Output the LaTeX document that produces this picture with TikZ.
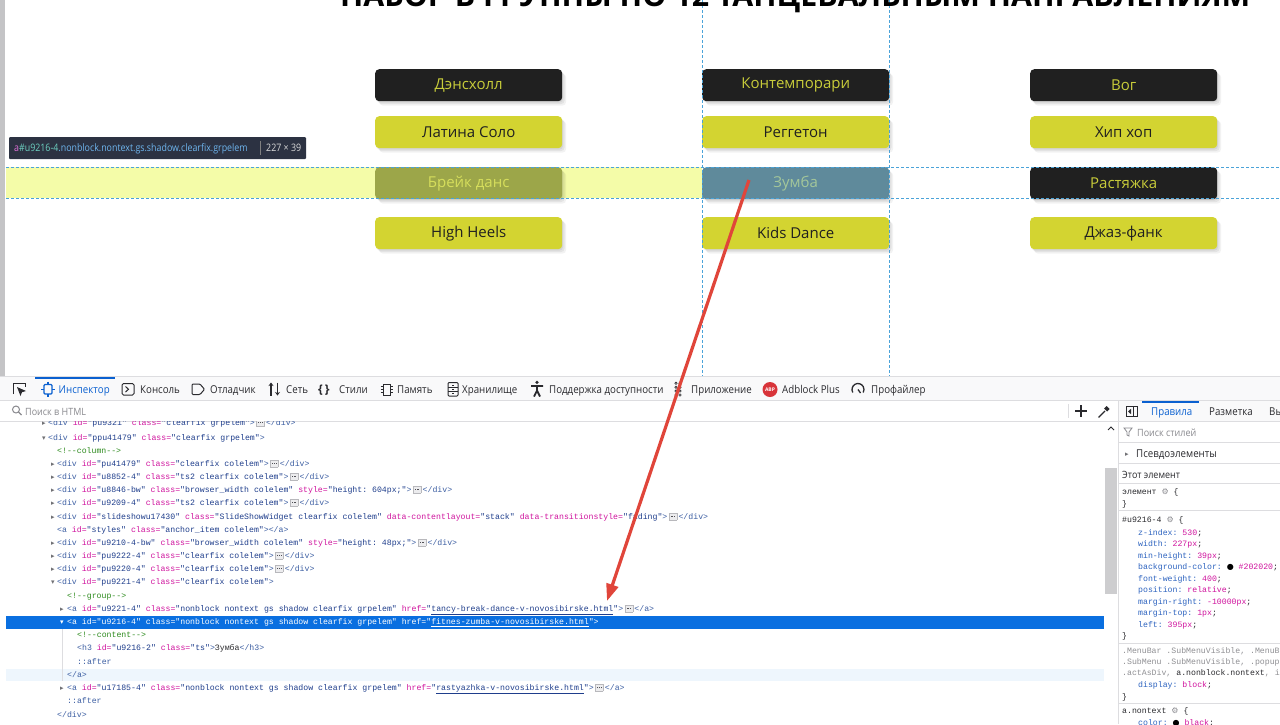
\documentclass[tikz,border=0pt]{standalone}
\usepackage{fontspec}
\setmainfont{Open Sans}
\setmonofont{Liberation Mono}
\newfontfamily\uifam[FakeStretch=0.9]{Open Sans}
\newfontfamily\tipfam[FakeStretch=0.86]{Open Sans}
\newfontfamily\symfam{DejaVu Sans}
\usetikzlibrary{arrows.meta,shadows}

\definecolor{darkb}{HTML}{202020}
\definecolor{ylw}{HTML}{D3D431}
\definecolor{ylwtxt}{HTML}{C8CC3A}
\definecolor{hiband}{HTML}{F4FCA8}
\definecolor{brkfill}{HTML}{9CA649}
\definecolor{brktxt}{HTML}{D6DE5C}
\definecolor{zumfill}{HTML}{5F8A9B}
\definecolor{zumtxt}{HTML}{A4C79A}
\definecolor{guidec}{HTML}{4AA3D9}
\definecolor{tipbg}{HTML}{2C3242}
\definecolor{tipa}{HTML}{E070D8}
\definecolor{tipid}{HTML}{6CCFC0}
\definecolor{tipcls}{HTML}{6EB5EE}
\definecolor{tagc}{HTML}{3D5FA3}
\definecolor{attc}{HTML}{D0149E}
\definecolor{valc}{HTML}{1F3E8C}
\definecolor{cmtc}{HTML}{2E8B1E}
\definecolor{selbg}{HTML}{0A6FE0}
\definecolor{rowhi}{HTML}{EEF6FD}
\definecolor{arrowred}{HTML}{E0453A}
\definecolor{tbbg}{HTML}{F9F9FA}
\definecolor{bord}{HTML}{DDDDE0}
\definecolor{uitxt}{HTML}{2A2A2E}
\definecolor{blueui}{HTML}{0A60D0}
\definecolor{phgray}{HTML}{8A8A8F}
\definecolor{trigray}{HTML}{707074}
\definecolor{ellbd}{HTML}{B8B8BC}
\definecolor{ellbg}{HTML}{ECECEE}
\definecolor{ellfg}{HTML}{505055}
\definecolor{propc}{HTML}{2E64C0}
\definecolor{valp}{HTML}{D0149E}
\definecolor{selgray}{HTML}{909094}
\definecolor{gearc}{HTML}{8A8A8F}
\definecolor{thumb}{HTML}{CDCDCF}
\definecolor{abpred}{HTML}{D8343A}
\definecolor{leftbar}{HTML}{C4C4C6}

\newcommand\ctag[1]{\textcolor{tagc}{#1}}
\newcommand\catt[1]{\textcolor{attc}{#1}}
\newcommand\cval[1]{\textcolor{valc}{#1}}
\newcommand\ccmt[1]{\textcolor{cmtc}{#1}}
\newcommand\clink[1]{\textcolor{valc}{\underline{#1}}}
\newcommand\attr[2]{\space\catt{#1=}\cval{"#2"}}
\newcommand\ellbox{\kern1.5pt\raisebox{-0.6pt}{\setlength\fboxsep{0pt}\setlength\fboxrule{0.4pt}\fcolorbox{ellbd}{ellbg}{\rule{0pt}{6.5pt}\kern1.4pt\textcolor{ellfg}{\rule[2.7pt]{1pt}{1pt}\kern0.8pt\rule[2.7pt]{1pt}{1pt}\kern0.8pt\rule[2.7pt]{1pt}{1pt}}\kern1.4pt}}\kern1.5pt}
\newcommand\gearic{{\symfam\fontsize{8}{8}\selectfont\textcolor{gearc}{⚙}}}
\newcommand\dotic{{\symfam\fontsize{8}{8}\selectfont\textcolor{black}{●}}}
\newcommand\propl[2]{\textcolor{propc}{#1:} \textcolor{valp}{#2};}

\tikzset{
  guide/.style={draw=guidec, dash pattern=on 3pt off 2pt, line width=0.7pt},
  softshadow/.style={
    general shadow={fill=black, opacity=0.06, shadow xshift=1pt, shadow yshift=-1.5pt},
    general shadow={fill=black, opacity=0.06, shadow xshift=2.5pt, shadow yshift=-3pt},
    general shadow={fill=black, opacity=0.05, shadow xshift=4pt, shadow yshift=-4.5pt}},
  btn/.style={anchor=north west, rounded corners=4pt, minimum width=187pt, minimum height=32pt,
    inner sep=0pt, font=\fontsize{15}{18}\selectfont, softshadow},
  darkbtn/.style={btn, fill=darkb, text=ylwtxt},
  ylwbtn/.style={btn, fill=ylw, text=darkb},
  code/.style={anchor=base west, inner sep=0pt, font=\ttfamily\fontsize{8.2}{10}\selectfont, text=uitxt},
  tri/.style={anchor=base west, inner sep=0pt, font=\symfam\fontsize{7}{7}\selectfont, text=trigray},
  uilabel/.style={anchor=base west, inner sep=0pt, font=\uifam\fontsize{10.8}{12}\selectfont, text=uitxt},
  icon/.style={draw=uitxt, line width=1pt},
  sepline/.style={draw=bord, line width=0.8pt},
}

\begin{document}
\begin{tikzpicture}[x=1pt,y=-1pt]
\useasboundingbox (0,0) rectangle (1280,724);
\begin{scope}
\clip (0,0) rectangle (1280,724);
\fill[white] (0,0) rectangle (1280,724);

% ---------------- page area ----------------
\fill[leftbar] (0,0) rectangle (5,376);
\fill[hiband] (6,167) rectangle (702,198);

\node[darkbtn] (b11) at (375,69) {Дэнсхолл};
\node[darkbtn] (b12) at (702,69) {Контемпорари};
\node[darkbtn] (b13) at (1030,69) {Вог};
\node[ylwbtn] (b21) at (375,116) {Латина Соло};
\node[ylwbtn] (b22) at (702,116) {Реггетон};
\node[ylwbtn] (b23) at (1030,116) {Хип хоп};
\node[btn, fill=brkfill, text=brktxt] (b31) at (375,167) {Брейк данс};
\node[btn, fill=zumfill, text=zumtxt] (b32) at (702,167) {Зумба};
\node[darkbtn] (b33) at (1030,167) {Растяжка};
\node[ylwbtn] (b41) at (375,217) {High Heels};
\node[ylwbtn] (b42) at (702,217) {Kids Dance};
\node[ylwbtn] (b43) at (1030,217) {Джаз-фанк};

\draw[guide] (6,167) -- (1280,167);
\draw[guide] (6,198) -- (1280,198);
\draw[guide] (702,0) -- (702,376);
\draw[guide] (889,0) -- (889,376);

\node[anchor=base west, inner sep=0pt] (title) at (340,6.5)
  {\resizebox{910pt}{!}{\bfseries НАБОР В ГРУППЫ ПО 12 ТАНЦЕВАЛЬНЫМ НАПРАВЛЕНИЯМ}};

% tooltip
\fill[tipbg, rounded corners=1pt] (9,137) rectangle (306,159);
\node[anchor=base west, inner sep=0pt, font=\tipfam\fontsize{10.3}{11}\selectfont] (tip) at (14,151.8)
  {\textcolor{tipa}{a}\textcolor{tipid}{\#u9216-4}\textcolor{tipcls}{.nonblock.nontext.gs.shadow.clearfix.grpelem}};
\draw[draw=gray, line width=0.6pt] (260.5,141) -- (260.5,155);
\node[anchor=base west, inner sep=0pt, font=\tipfam\fontsize{10.3}{11}\selectfont, text=white!85!black] (tipsz) at (266,151.8) {227 × 39};

% ---------------- devtools ----------------
\fill[white] (0,376) rectangle (1280,724);
\fill[tbbg] (0,377) rectangle (1280,400);
\draw[sepline] (0,376.5) -- (1280,376.5);
\draw[sepline] (0,400.5) -- (1280,400.5);
\fill[blueui] (35,377) rectangle (115,379);

% toolbar icons
\draw[icon] (13.5,394) -- (13.5,383.5) -- (25,383.5) -- (25,387);
\fill[uitxt] (17,387) -- (26,391) -- (22,392.2) -- (20.5,396) -- cycle;
\draw[blueui, line width=1.2pt, rounded corners=1pt] (44,384.5) rectangle (52,394);
\draw[blueui, line width=1.2pt] (48,381.5)--(48,384.5) (48,394)--(48,397) (41,389.3)--(44,389.3) (52,389.3)--(55,389.3);
\draw[icon, rounded corners=1.5pt] (122,383.5) rectangle (134,395);
\draw[icon] (125.5,386.5) -- (128.5,389.3) -- (125.5,392);
\draw[icon, rounded corners=1pt] (192,384) -- (200,384) -- (204.5,389.3) -- (200,394.5) -- (192,394.5) -- cycle;
\draw[icon, line width=1.3pt, -{Stealth[length=3.5pt,width=5pt]}] (271,395.5) -- (271,382.5);
\draw[icon, line width=1.3pt, -{Stealth[length=3.5pt,width=5pt]}] (277.5,382.5) -- (277.5,395.5);
\node[anchor=base west, inner sep=0pt, font=\fontsize{12}{12}\selectfont\bfseries, text=uitxt] (stic) at (318,393.5) {\{\,\}};
\draw[icon] (383,384) rectangle (390,395);
\draw[icon] (380.5,386.5)--(383,386.5) (380.5,389.5)--(383,389.5) (380.5,392.5)--(383,392.5)
  (390,386.5)--(392.5,386.5) (390,389.5)--(392.5,389.5) (390,392.5)--(392.5,392.5);
\draw[icon, rounded corners=1pt] (448,382.5) rectangle (458,396);
\draw[icon] (448,387.5)--(458,387.5) (448,391.5)--(458,391.5) (452,385)--(454,385) (452,389.5)--(454,389.5) (452,393.8)--(454,393.8);
\fill[uitxt] (537,382.3) circle (1.8);
\draw[uitxt, line width=1.8pt] (531,386)--(543,386) (537,386)--(537,390.5) (537,390.5)--(534,396.5) (537,390.5)--(540,396.5);
\foreach \i in {0,1} \foreach \j in {0,1,2,3} {\draw[uitxt, line width=0.6pt] (676+4*\i,383.3+3.9*\j) circle (1.2);}
\fill[abpred] (770,389.5) circle (7.5);
\node[inner sep=0pt, font=\bfseries\fontsize{5}{5}\selectfont, text=white] (abp) at (770,389.5) {ABP};
\draw[icon, line width=1.3pt] (858,389.5) ++(150:6) arc[start angle=150, end angle=390, radius=6];
\draw[icon, line width=1.3pt] (858,389.5) -- (860.5,393);

% toolbar labels
\node[uilabel, text=blueui] (t1) at (58.5,393) {Инспектор};
\node[uilabel] (t2) at (140,393) {Консоль};
\node[uilabel] (t3) at (210,393) {Отладчик};
\node[uilabel] (t4) at (286,393) {Сеть};
\node[uilabel] (t5) at (339,393) {Стили};
\node[uilabel] (t6) at (397,393) {Память};
\node[uilabel] (t7) at (462,393) {Хранилище};
\node[uilabel] (t8) at (549,393) {Поддержка доступности};
\node[uilabel] (t9) at (691,393) {Приложение};
\node[uilabel] (t10) at (782,393) {Adblock Plus};
\node[uilabel] (t11) at (871,393) {Профайлер};

% search row
\draw[phgray, line width=1pt] (16,409.5) circle (3.5);
\draw[phgray, line width=1.2pt] (18.6,412.1) -- (21.5,415);
\node[uilabel, text=phgray, font=\uifam\fontsize{10}{12}\selectfont] (srch) at (25,415) {Поиск в HTML};
\draw[sepline] (1068,404) -- (1068,418);
\draw[uitxt, line width=1.2pt] (1075,411)--(1087,411) (1081,405)--(1081,417);
\draw[uitxt, line width=1.2pt] (1098.5,417.5)--(1105,411);
\fill[uitxt] (1104,408.5) -- (1106.5,406) -- (1109.5,409) -- (1107,411.5) -- cycle;
\draw[sepline] (0,421.5) -- (1280,421.5);

% code area
\begin{scope}
\clip (6,421.8) rectangle (1104,724);
\fill[selbg] (6,616) rectangle (1104,628.5);
\fill[rowhi] (6,668.8) rectangle (1104,681);
\draw[draw=bord, line width=0.8pt] (62,629) -- (62,681);

\node[tri] (r0) at (42,425) {▸};
\node[code] (l0) at (48,425) {\ctag{<div}\attr{id}{pu9321}\attr{class}{clearfix grpelem}\ctag{>}\ellbox\ctag{</div>}};
\node[tri] (r1) at (42,440) {▾};
\node[code] (l1) at (48,440) {\ctag{<div}\attr{id}{ppu41479}\attr{class}{clearfix grpelem}\ctag{>}};
\node[code] (l2) at (57,453) {\ccmt{<!--column-->}};
\node[tri] (r3) at (51,466) {▸};
\node[code] (l3) at (57,466) {\ctag{<div}\attr{id}{pu41479}\attr{class}{clearfix colelem}\ctag{>}\ellbox\ctag{</div>}};
\node[tri] (r4) at (51,479) {▸};
\node[code] (l4) at (57,479) {\ctag{<div}\attr{id}{u8852-4}\attr{class}{ts2 clearfix colelem}\ctag{>}\ellbox\ctag{</div>}};
\node[tri] (r5) at (51,492) {▸};
\node[code] (l5) at (57,492) {\ctag{<div}\attr{id}{u8846-bw}\attr{class}{browser\_width colelem}\attr{style}{height: 604px;}\ctag{>}\ellbox\ctag{</div>}};
\node[tri] (r6) at (51,505) {▸};
\node[code] (l6) at (57,505) {\ctag{<div}\attr{id}{u9209-4}\attr{class}{ts2 clearfix colelem}\ctag{>}\ellbox\ctag{</div>}};
\node[tri] (r7) at (51,519) {▸};
\node[code] (l7) at (57,519) {\ctag{<div}\attr{id}{slideshowu17430}\attr{class}{SlideShowWidget clearfix colelem}\attr{data-contentlayout}{stack}\attr{data-transitionstyle}{fading}\ctag{>}\ellbox\ctag{</div>}};
\node[code] (l8) at (57,532) {\ctag{<a}\attr{id}{styles}\attr{class}{anchor\_item colelem}\ctag{></a>}};
\node[tri] (r9) at (51,545) {▸};
\node[code] (l9) at (57,545) {\ctag{<div}\attr{id}{u9210-4-bw}\attr{class}{browser\_width colelem}\attr{style}{height: 48px;}\ctag{>}\ellbox\ctag{</div>}};
\node[tri] (r10) at (51,558) {▸};
\node[code] (l10) at (57,558) {\ctag{<div}\attr{id}{pu9222-4}\attr{class}{clearfix colelem}\ctag{>}\ellbox\ctag{</div>}};
\node[tri] (r11) at (51,571) {▸};
\node[code] (l11) at (57,571) {\ctag{<div}\attr{id}{pu9220-4}\attr{class}{clearfix colelem}\ctag{>}\ellbox\ctag{</div>}};
\node[tri] (r12) at (51,584) {▾};
\node[code] (l12) at (57,584) {\ctag{<div}\attr{id}{pu9221-4}\attr{class}{clearfix colelem}\ctag{>}};
\node[code] (l13) at (67,598) {\ccmt{<!--group-->}};
\node[tri] (r14) at (60,611) {▸};
\node[code] (l14) at (67,611) {\ctag{<a}\attr{id}{u9221-4}\attr{class}{nonblock nontext gs shadow clearfix grpelem}\space\catt{href=}\cval{"}\clink{tancy-break-dance-v-novosibirske.html}\cval{"}\ctag{>}\ellbox\ctag{</a>}};
\node[tri, text=white] (r15) at (60,624.5) {▾};
\node[code, text=white] (l15) at (67,624.5) {<a id="u9216-4" class="nonblock nontext gs shadow clearfix grpelem" href="\underline{fitnes-zumba-v-novosibirske.html}">};
\node[code] (l16) at (77,637.5) {\ccmt{<!--content-->}};
\node[code] (l17) at (77,650.5) {\ctag{<h3}\attr{id}{u9216-2}\attr{class}{ts}\ctag{>}Зумба\ctag{</h3>}};
\node[code] (l18) at (77,664) {\ctag{::after}};
\node[code] (l19) at (67,677) {\ctag{</a>}};
\node[tri] (r20) at (60,690.5) {▸};
\node[code] (l20) at (67,690.5) {\ctag{<a}\attr{id}{u17185-4}\attr{class}{nonblock nontext gs shadow clearfix grpelem}\space\catt{href=}\cval{"}\clink{rastyazhka-v-novosibirske.html}\cval{"}\ctag{>}\ellbox\ctag{</a>}};
\node[code] (l21) at (67,703.5) {\ctag{::after}};
\node[code] (l22) at (57,717) {\ctag{</div>}};
\end{scope}

% scrollbar
\fill[thumb] (1105,468) rectangle (1117,594);
\draw[uitxt, line width=1pt] (1108,430) -- (1111,427) -- (1114,430);

% right panel
\fill[white] (1118,401) rectangle (1280,724);
\fill[tbbg] (1118,401) rectangle (1280,421);
\draw[sepline] (1118,401) -- (1118,724);
\draw[sepline] (1118,421.5) -- (1280,421.5);
\fill[blueui] (1142,401) rectangle (1199,403);
\draw[uitxt, line width=0.8pt] (1126,406.5) rectangle (1137,416.5);
\draw[uitxt, line width=0.8pt] (1133,406.5) -- (1133,416.5);
\fill[uitxt] (1131,408.8) -- (1128,411.5) -- (1131,414.2) -- cycle;
\node[uilabel, text=blueui] (p1) at (1151,415) {Правила};
\node[uilabel] (p2) at (1209,415) {Разметка};
\node[uilabel] (p3) at (1269,415) {Вы};

\draw[phgray, line width=0.8pt] (1124,428) -- (1132,428) -- (1129,432) -- (1129,436) -- (1127,435) -- (1127,432) -- cycle;
\node[uilabel, text=phgray, font=\uifam\fontsize{10}{12}\selectfont] (ps) at (1137,436) {Поиск стилей};
\draw[sepline] (1118,442) -- (1280,442);
\node[tri] (pt) at (1125,456.5) {▸};
\node[uilabel] (pe) at (1136,457) {Псевдоэлементы};
\draw[sepline] (1118,463.5) -- (1280,463.5);
\node[uilabel, font=\uifam\fontsize{10}{12}\selectfont] (te) at (1122,478) {Этот элемент};
\draw[sepline] (1118,483.5) -- (1280,483.5);

\node[code] (q1) at (1122,494) {элемент \gearic\ \{};
\node[code] (q2) at (1122,506) {\}};
\draw[sepline] (1118,510.5) -- (1280,510.5);
\node[code] (q3) at (1122,522) {\#u9216-4 \gearic\ \{};
\node[code] (q4) at (1138,535) {\propl{z-index}{530}};
\node[code] (q5) at (1138,546.5) {\propl{width}{227px}};
\node[code] (q6) at (1138,558) {\propl{min-height}{39px}};
\node[code] (q7) at (1138,569.5) {\textcolor{propc}{background-color:} \dotic\ \textcolor{valp}{\#202020};};
\node[code] (q8) at (1138,581) {\propl{font-weight}{400}};
\node[code] (q9) at (1138,592.5) {\propl{position}{relative}};
\node[code] (q10) at (1138,604) {\propl{margin-right}{-10000px}};
\node[code] (q11) at (1138,615.5) {\propl{margin-top}{1px}};
\node[code] (q12) at (1138,627) {\propl{left}{395px}};
\node[code] (q13) at (1122,638.5) {\}};
\draw[sepline] (1118,643) -- (1280,643);
\node[code, text=selgray] (q14) at (1122,653) {.MenuBar .SubMenuVisible, .MenuB};
\node[code, text=selgray] (q15) at (1122,664) {.SubMenu .SubMenuVisible, .popup};
\node[code, text=selgray] (q16) at (1122,675) {.actAsDiv, \textcolor{uitxt}{a.nonblock.nontext}, i};
\node[code] (q17) at (1138,687) {\propl{display}{block}};
\node[code] (q18) at (1122,699) {\}};
\draw[sepline] (1118,703) -- (1280,703);
\node[code] (q19) at (1122,713) {a.nontext \gearic\ \{};
\node[code] (q20) at (1138,725.5) {\textcolor{propc}{color:} \dotic\ \textcolor{valp}{black};};

% red arrow
\coordinate (arrS) at (749,180);
\coordinate (arrE) at (607,601);
\draw[arrowred, line width=3.2pt, -{Triangle[length=17pt,width=12pt]}] (arrS) -- (arrE);
\end{scope}
\end{tikzpicture}
\end{document}
